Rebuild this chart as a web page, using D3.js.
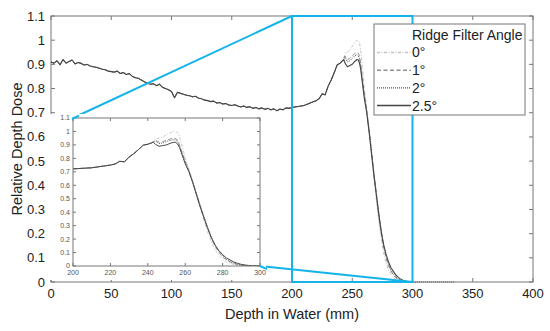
<!DOCTYPE html>
<html>
<head>
<meta charset="utf-8">
<script src="https://cdn.jsdelivr.net/npm/d3@7"></script>
<style>
  body { margin: 0; background: #fff; }
  svg { display: block; font-family: "Liberation Sans", Arial, sans-serif; }
  .box { fill: none; stroke: #777; stroke-width: 1; }
  .tick-line { stroke: #777; stroke-width: 1; }
  .dose { fill: none; stroke-linejoin: round; }
</style>
</head>
<body>
<svg id="chart" width="550" height="331"></svg>
<script>
  // shared part of the depth dose curve (all angles overlap here)
  var baseDepth = [0, 2.5, 5, 7.5, 10, 12.5, 15, 17.5, 20, 22.5, 25, 27.5, 30, 32.5, 35, 37.5, 40, 42.5, 45, 47.5,
    50, 52.5, 55, 57.5, 60, 62.5, 65, 67.5, 70, 72.5, 75, 77.5, 80, 82.5, 85, 87.5, 90, 92.5, 95, 97.5,
    100, 102.5, 105, 107.5, 110, 112.5, 115, 117.5, 120, 122.5, 125, 127.5, 130, 132.5, 135, 137.5, 140, 142.5, 145, 147.5,
    150, 152.5, 155, 157.5, 160, 162.5, 165, 167.5, 170, 172.5, 175, 177.5, 180, 182.5, 185, 187.5, 190, 192.5, 195, 197.5,
    200, 202.5, 205, 207.5, 210, 212.5, 215, 217.5, 220, 222.5, 225, 227.5, 230, 232.5, 235, 237.5, 240];
  var baseDose = [0.910, 0.905, 0.915, 0.898, 0.920, 0.905, 0.912, 0.918, 0.902, 0.908, 0.904, 0.897, 0.900, 0.893, 0.890, 0.888, 0.884, 0.880, 0.878, 0.872,
    0.870, 0.868, 0.872, 0.862, 0.866, 0.858, 0.862, 0.850, 0.845, 0.842, 0.835, 0.828, 0.822, 0.818, 0.820, 0.812, 0.818, 0.805, 0.800, 0.795,
    0.788, 0.762, 0.785, 0.780, 0.776, 0.772, 0.770, 0.766, 0.768, 0.760, 0.758, 0.752, 0.750, 0.746, 0.748, 0.740, 0.742, 0.736, 0.738, 0.732,
    0.730, 0.733, 0.728, 0.724, 0.728, 0.722, 0.725, 0.718, 0.722, 0.716, 0.720, 0.714, 0.718, 0.712, 0.716, 0.708, 0.715, 0.712, 0.720, 0.718,
    0.722, 0.724, 0.726, 0.728, 0.730, 0.735, 0.740, 0.745, 0.750, 0.758, 0.778, 0.774, 0.810, 0.835, 0.865, 0.898, 0.905];

  // Bragg peak region, per ridge filter angle
  var peakDepth = [242, 243, 244, 246, 248, 250, 252, 254, 255, 256, 257, 258, 259, 260, 262, 264, 266, 268, 270, 272,
    274, 276, 278, 280, 282, 284, 286, 288, 290, 292, 294, 296, 298, 300];
  var dose0 = [0.915, 0.925, 0.945, 0.950, 0.960, 0.975, 0.990, 1.000, 1.000, 0.990, 0.960, 0.910, 0.860, 0.800, 0.720, 0.630, 0.530, 0.430, 0.340, 0.250,
    0.180, 0.120, 0.080, 0.050, 0.030, 0.020, 0.012, 0.007, 0.004, 0.003, 0.002, 0.001, 0.001, 0];
  var dose1 = [0.915, 0.925, 0.935, 0.920, 0.925, 0.935, 0.945, 0.950, 0.945, 0.935, 0.900, 0.860, 0.820, 0.780, 0.710, 0.630, 0.540, 0.450, 0.360, 0.280,
    0.205, 0.145, 0.100, 0.068, 0.045, 0.030, 0.018, 0.011, 0.006, 0.004, 0.003, 0.002, 0.001, 0];
  var dose2 = [0.915, 0.922, 0.930, 0.910, 0.915, 0.925, 0.935, 0.940, 0.935, 0.925, 0.890, 0.850, 0.810, 0.770, 0.705, 0.625, 0.540, 0.450, 0.370, 0.290,
    0.215, 0.155, 0.110, 0.075, 0.050, 0.034, 0.021, 0.013, 0.007, 0.005, 0.003, 0.002, 0.001, 0];
  var dose25 = [0.915, 0.920, 0.905, 0.890, 0.895, 0.900, 0.912, 0.920, 0.918, 0.905, 0.880, 0.840, 0.800, 0.760, 0.700, 0.620, 0.530, 0.440, 0.360, 0.280,
    0.210, 0.155, 0.115, 0.085, 0.060, 0.045, 0.030, 0.020, 0.012, 0.007, 0.004, 0.002, 0.001, 0];
  // the 2° scan goes on past 300 mm
  var tailDepth = [305, 310, 315, 320, 325, 330, 335];
  var tailDose = [0, 0, 0, 0, 0, 0, 0];

  var angleLabels = ["0°", "1°", "2°", "2.5°"];
  var xTicks = [0, 50, 100, 150, 200, 250, 300, 350, 400];
  var yTicks = [0, 0.1, 0.2, 0.3, 0.4, 0.5, 0.6, 0.7, 0.8, 0.9, 1, 1.1];
  var insetXTicks = [200, 220, 240, 260, 280, 300];

  var styles = [
    { color: "#c4c4c4", dash: "3,1.5,1,1.5", width: 1 },
    { color: "#909090", dash: "4,2.5", width: 1 },
    { color: "#555555", dash: "1,1", width: 1 },
    { color: "#454545", dash: null, width: 1.1 }
  ];

  function makeSeries(dose, withTail) {
    var pts = baseDepth.map(function(d, i) { return [d, baseDose[i]]; });
    peakDepth.forEach(function(d, i) { pts.push([d, dose[i]]); });
    if (withTail) tailDepth.forEach(function(d, i) { pts.push([d, tailDose[i]]); });
    return pts;
  }
  var series = [makeSeries(dose0), makeSeries(dose1), makeSeries(dose2, true), makeSeries(dose25)];

  var svg = d3.select("#chart");
  var blue = "#14b4ea";
  var fmt = function(v) { return d3.format("~g")(+v.toFixed(1)); };

  // ---- main axes ----
  var m = { left: 51, right: 533, top: 16, bottom: 282 };
  var x = d3.scaleLinear().domain([0, 400]).range([m.left, m.right]);
  var y = d3.scaleLinear().domain([0, 1.1]).range([m.bottom, m.top]);

  function drawFrame(g, xs, ys, xt, yt, tickLen, fontSize, labelColor, xLabOff, yLabOff) {
    var r = xs.range(), d = ys.range();
    g.append("rect").attr("class", "box")
      .attr("x", r[0]).attr("y", d[1]).attr("width", r[1] - r[0]).attr("height", d[0] - d[1]);
    xt.forEach(function(t) {
      g.append("line").attr("class", "tick-line")
        .attr("x1", xs(t)).attr("x2", xs(t)).attr("y1", d[0]).attr("y2", d[0] - tickLen);
      g.append("line").attr("class", "tick-line")
        .attr("x1", xs(t)).attr("x2", xs(t)).attr("y1", d[1]).attr("y2", d[1] + tickLen);
      g.append("text").attr("x", xs(t)).attr("y", d[0] + xLabOff)
        .attr("text-anchor", "middle").attr("font-size", fontSize).attr("fill", labelColor).text(t);
    });
    yt.forEach(function(t) {
      g.append("line").attr("class", "tick-line")
        .attr("x1", r[0]).attr("x2", r[0] + tickLen).attr("y1", ys(t)).attr("y2", ys(t));
      g.append("line").attr("class", "tick-line")
        .attr("x1", r[1]).attr("x2", r[1] - tickLen).attr("y1", ys(t)).attr("y2", ys(t));
      g.append("text").attr("x", r[0] - yLabOff).attr("y", ys(t)).attr("dy", "0.35em")
        .attr("text-anchor", "end").attr("font-size", fontSize).attr("fill", labelColor).text(fmt(t));
    });
  }

  var main = svg.append("g");
  drawFrame(main, x, y, xTicks, yTicks, 4, 13, "#222", 16, 6);

  function drawCurves(g, xs, ys, k) {
    var line = d3.line().x(function(p) { return xs(p[0]); }).y(function(p) { return ys(p[1]); });
    series.forEach(function(s, i) {
      g.append("path").attr("class", "dose")
        .attr("d", line(s))
        .attr("stroke", styles[i].color)
        .attr("stroke-width", styles[i].width * k)
        .attr("stroke-dasharray", styles[i].dash);
    });
  }
  drawCurves(main.append("g"), x, y, 1);

  // zoom box and leader lines
  var inset = { left: 73, right: 260, top: 118, bottom: 266 };
  main.append("rect")
    .attr("x", x(200)).attr("y", y(1.1)).attr("width", x(300) - x(200)).attr("height", y(0) - y(1.1))
    .attr("fill", "none").attr("stroke", blue).attr("stroke-width", 2);
  main.append("line").attr("x1", x(200)).attr("y1", y(1.1)).attr("x2", inset.left).attr("y2", inset.top)
    .attr("stroke", blue).attr("stroke-width", 2);
  main.append("line").attr("x1", x(300)).attr("y1", y(0)).attr("x2", inset.right).attr("y2", inset.bottom)
    .attr("stroke", blue).attr("stroke-width", 2);

  // axis titles
  svg.append("text").attr("transform", "translate(22," + ((m.top + m.bottom) / 2) + ") rotate(-90)")
    .attr("text-anchor", "middle").attr("font-size", 14.5).attr("fill", "#222").text("Relative Depth Dose");
  svg.append("text").attr("x", (m.left + m.right) / 2).attr("y", 319)
    .attr("text-anchor", "middle").attr("font-size", 14.5).attr("fill", "#222").text("Depth in Water (mm)");

  // ---- inset ----
  var ix = d3.scaleLinear().domain([200, 300]).range([inset.left, inset.right]);
  var iy = d3.scaleLinear().domain([0, 1.1]).range([inset.bottom, inset.top]);
  var ig = svg.append("g");
  ig.append("rect").attr("x", inset.left - 24).attr("y", inset.top - 4)
    .attr("width", inset.right - inset.left + 30).attr("height", inset.bottom - inset.top + 18).attr("fill", "#fff");
  ig.append("clipPath").attr("id", "inset-clip").append("rect")
    .attr("x", inset.left).attr("y", inset.top - 2)
    .attr("width", inset.right - inset.left).attr("height", inset.bottom - inset.top + 2);
  drawCurves(ig.append("g").attr("clip-path", "url(#inset-clip)"), ix, iy, 0.9);
  drawFrame(ig, ix, iy, insetXTicks, yTicks, 3, 7, "#555", 9, 3);

  // redraw leader ends on top so they meet the inset corners
  svg.append("line").attr("x1", inset.left - 1).attr("y1", inset.top + 1).attr("x2", inset.left + 6).attr("y2", inset.top - 2.3)
    .attr("stroke", blue).attr("stroke-width", 2);
  svg.append("line").attr("x1", inset.right).attr("y1", inset.bottom).attr("x2", inset.right + 7).attr("y2", inset.bottom + 3.2)
    .attr("stroke", blue).attr("stroke-width", 2);

  // ---- legend ----
  var lg = svg.append("g");
  lg.append("rect").attr("x", 374).attr("y", 24).attr("width", 151).attr("height", 91)
    .attr("fill", "#fff").attr("stroke", "#777").attr("stroke-width", 1);
  lg.append("text").attr("x", 412).attr("y", 40).attr("font-size", 14).attr("fill", "#222").text("Ridge Filter Angle");
  angleLabels.forEach(function(lab, i) {
    var ly = 52.5 + i * 17.7;
    lg.append("line").attr("x1", 377).attr("x2", 411).attr("y1", ly).attr("y2", ly)
      .attr("stroke", styles[i].color).attr("stroke-width", styles[i].width + 0.4)
      .attr("stroke-dasharray", styles[i].dash);
    lg.append("text").attr("x", 412).attr("y", ly).attr("dy", "0.35em")
      .attr("font-size", 14).attr("fill", "#222").text(lab);
  });
</script>
</body>
</html>
